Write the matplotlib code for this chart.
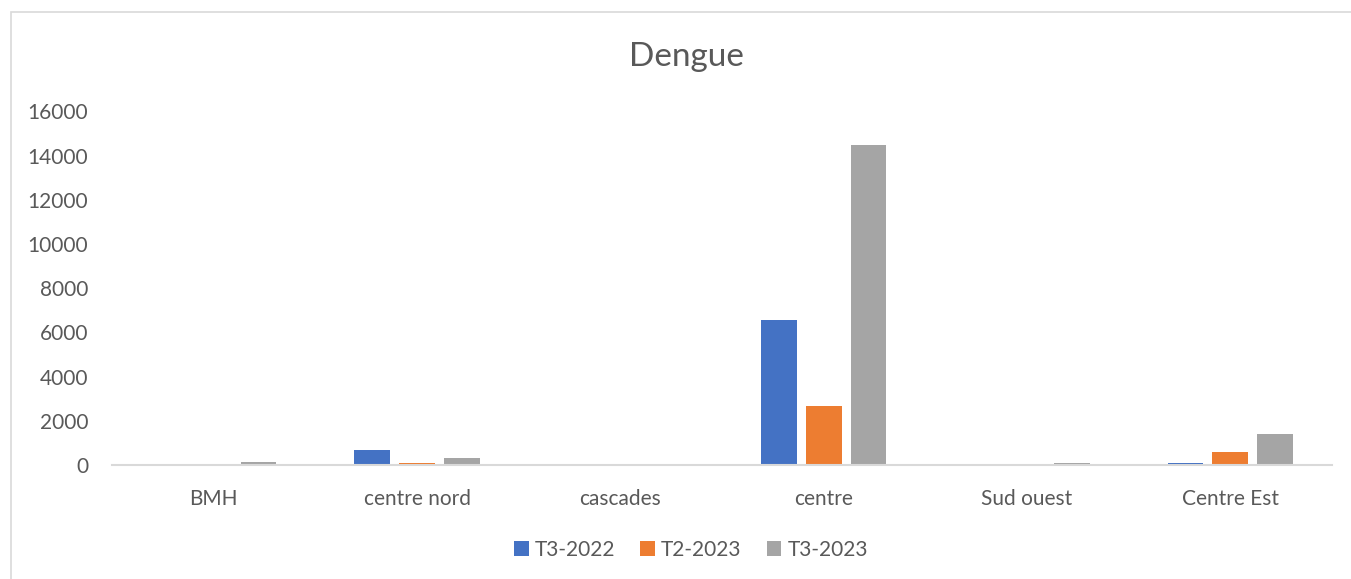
import numpy as np
import matplotlib.pyplot as plt
from matplotlib.patches import Rectangle

# Données
regions = ['BMH', 'centre nord', 'cascades', 'centre', 'Sud ouest', 'Centre Est']
t3_2022 = [0, 680, 0, 6560, 30, 80]
t2_2023 = [0, 100, 0, 2680, 0, 600]
t3_2023 = [120, 310, 40, 14480, 80, 1390]
series_names = ['T3-2022', 'T2-2023', 'T3-2023']
couleurs = ['#4472C4', '#ED7D31', '#A5A5A5']

texte = '#595959'
plt.rcParams['font.family'] = ['Lato', 'DejaVu Sans']

fig = plt.figure(figsize=(13.51, 5.79), dpi=100)
ax = fig.add_axes([112 / 1351, 1 - 465 / 579, 1220 / 1351, 353.5 / 579])

x = np.arange(len(regions))
largeur = 0.1755
pas = 0.221
for i, (vals, nom, c) in enumerate(zip([t3_2022, t2_2023, t3_2023], series_names, couleurs)):
    ax.bar(x + (i - 1) * pas, vals, width=largeur, color=c, label=nom)

ax.set_xlim(-0.5, len(regions) - 0.5)
ax.set_ylim(0, 16000)
ax.set_yticks(range(0, 16001, 2000))
ax.set_xticks(x)
ax.set_xticklabels(regions)
ax.tick_params(axis='both', length=0, colors=texte, labelsize=15)
ax.tick_params(axis='x', pad=17)
ax.tick_params(axis='y', pad=17)
for s in ['top', 'right', 'left']:
    ax.spines[s].set_visible(False)
ax.spines['bottom'].set_color('#D9D9D9')
ax.spines['bottom'].set_linewidth(1.5)

fig.text(686 / 1351, 1 - 57 / 579, 'Dengue', ha='center', va='center', fontsize=24, color=texte)

fig.legend(loc='center', bbox_to_anchor=(691 / 1351, 1 - 550 / 579), ncol=3, frameon=False,
           fontsize=15, labelcolor=texte, handlelength=0.7, handleheight=0.7,
           handletextpad=0.3, columnspacing=1.2)

# cadre gris autour du graphique
fig.patches.append(Rectangle((11 / 1351, -0.1), 1.2, 1.1 - 12 / 579, transform=fig.transFigure,
                             fill=False, edgecolor='#D9D9D9', linewidth=1.2))

plt.savefig('out.png', dpi=100)
